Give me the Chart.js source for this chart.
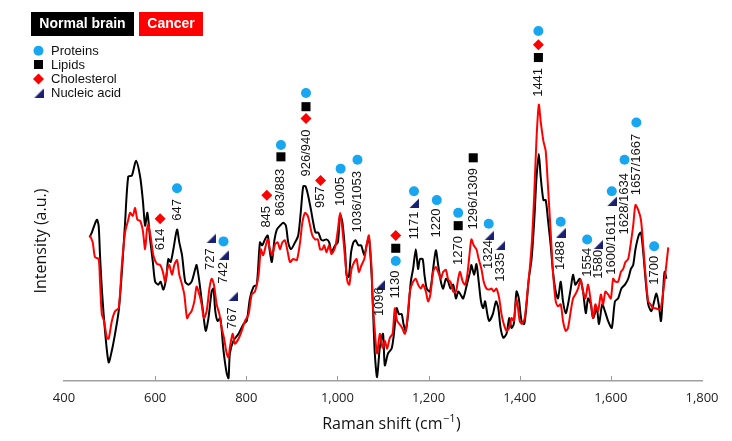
<!DOCTYPE html>
<html lang="en"><head>
<meta charset="UTF-8">
<title>Raman spectra normal brain vs cancer</title>
<script src="https://cdn.jsdelivr.net/npm/chart.js@4.4.0/dist/chart.umd.min.js"></script>
<style>
  body { margin:0; background:#fff; }
  #raman { display:block; }
</style>
</head>
<body>
<canvas id="raman" width="732" height="441"></canvas>
<script>
// spectra: [Raman shift, intensity a.u.]
const normalBrain = [[456,146],[461,151],[472,164],[476,158],[479,128],[483,94],[490,51],[498,19],[505,31],[512,48],[520,71],[527,111],[534,161],[541,208],[549,209],[558,224],[567,208],[573,184],[578,158],[583,171],[589,144],[595,121],[600,101],[607,98],[612,101],[618,93],[624,104],[629,124],[634,121],[640,134],[648,154],[653,141],[659,128],[666,101],[673,98],[680,101],[688,114],[691,118],[697,101],[705,71],[711,51],[717,64],[724,91],[728,94],[732,71],[737,61],[743,64],[750,31],[757,8],[761,3],[764,28],[772,41],[783,48],[794,58],[801,61],[808,84],[816,96],[823,98],[830,141],[835,138],[841,144],[847,148],[851,134],[856,121],[862,144],[867,154],[874,158],[881,161],[887,158],[892,141],[898,134],[907,141],[914,148],[920,174],[925,198],[930,198],[936,188],[942,174],[947,161],[952,151],[958,151],[964,144],[969,143],[976,144],[982,141],[987,131],[995,138],[1001,141],[1006,169],[1011,161],[1017,131],[1020,108],[1025,106],[1030,131],[1035,141],[1040,143],[1046,138],[1052,138],[1059,128],[1064,138],[1069,146],[1075,108],[1078,74],[1082,28],[1087,4],[1093,34],[1100,48],[1104,16],[1111,28],[1119,33],[1124,48],[1130,74],[1135,68],[1141,68],[1145,58],[1150,51],[1155,68],[1161,101],[1166,114],[1172,134],[1177,114],[1181,124],[1187,124],[1191,108],[1196,94],[1203,91],[1210,114],[1216,133],[1221,118],[1227,101],[1232,94],[1238,104],[1243,101],[1248,94],[1254,98],[1260,84],[1265,91],[1270,88],[1276,84],[1284,98],[1291,111],[1294,118],[1300,108],[1305,119],[1310,101],[1315,81],[1320,74],[1324,81],[1329,68],[1333,61],[1341,68],[1348,81],[1353,74],[1358,54],[1364,44],[1371,48],[1377,64],[1382,54],[1387,58],[1393,91],[1398,84],[1404,61],[1410,58],[1415,78],[1420,104],[1426,124],[1432,164],[1437,208],[1442,231],[1446,208],[1452,184],[1457,184],[1462,164],[1468,138],[1473,111],[1479,91],[1484,84],[1490,101],[1495,81],[1501,69],[1506,78],[1512,94],[1517,108],[1522,98],[1527,101],[1532,104],[1539,91],[1545,69],[1550,84],[1556,78],[1561,64],[1569,74],[1574,58],[1581,78],[1587,71],[1594,61],[1602,54],[1609,81],[1616,84],[1623,94],[1631,98],[1638,104],[1644,114],[1649,118],[1654,134],[1661,148],[1666,151],[1671,131],[1676,104],[1682,78],[1689,71],[1695,81],[1700,89],[1705,78],[1710,61],[1715,94],[1718,111],[1722,104]];

const cancer = [[457,148],[463,141],[468,126],[476,124],[479,101],[483,68],[488,61],[494,44],[498,43],[505,61],[512,71],[520,74],[527,118],[534,151],[541,164],[545,171],[551,168],[556,176],[561,164],[567,163],[573,153],[578,134],[582,154],[585,159],[591,144],[596,128],[604,119],[611,118],[617,111],[622,101],[627,114],[631,118],[637,108],[642,118],[648,123],[653,108],[659,98],[664,88],[670,64],[675,68],[680,71],[686,81],[691,96],[697,88],[702,78],[707,64],[713,71],[719,94],[724,104],[729,98],[735,78],[741,68],[746,54],[751,44],[757,28],[761,24],[764,34],[770,48],[775,38],[783,43],[790,51],[797,61],[805,68],[812,88],[819,91],[827,108],[832,134],[837,128],[843,138],[847,144],[852,134],[857,128],[863,139],[869,141],[874,134],[879,141],[885,143],[891,131],[896,121],[903,124],[911,123],[918,141],[923,161],[929,171],[935,168],[940,158],[945,148],[951,144],[957,144],[962,134],[967,134],[971,138],[976,131],[982,138],[987,129],[995,136],[1001,154],[1006,171],[1011,154],[1017,124],[1022,101],[1026,98],[1031,114],[1037,121],[1042,124],[1047,111],[1053,118],[1059,124],[1064,138],[1069,148],[1075,114],[1077,84],[1082,51],[1087,28],[1093,48],[1099,34],[1104,41],[1109,33],[1115,44],[1121,48],[1126,74],[1131,61],[1136,58],[1142,54],[1148,48],[1153,61],[1159,91],[1166,101],[1172,104],[1177,98],[1183,94],[1188,98],[1194,91],[1199,81],[1204,88],[1210,111],[1216,116],[1221,111],[1227,104],[1232,111],[1238,113],[1243,103],[1248,101],[1254,91],[1260,91],[1265,104],[1269,111],[1275,101],[1280,98],[1285,108],[1291,134],[1294,144],[1299,138],[1305,134],[1310,124],[1316,114],[1321,101],[1327,94],[1333,93],[1338,94],[1343,91],[1349,94],[1355,84],[1360,68],[1365,58],[1371,51],[1377,54],[1382,64],[1387,61],[1393,84],[1400,61],[1405,58],[1411,64],[1417,91],[1422,114],[1427,144],[1432,191],[1437,248],[1442,281],[1446,264],[1452,244],[1457,234],[1462,198],[1468,151],[1473,111],[1479,81],[1484,76],[1490,78],[1495,61],[1501,51],[1506,54],[1512,71],[1517,84],[1522,88],[1528,94],[1534,103],[1539,91],[1544,84],[1550,98],[1556,81],[1561,64],[1566,78],[1572,71],[1578,88],[1583,78],[1588,91],[1594,88],[1600,84],[1605,104],[1610,101],[1616,101],[1622,111],[1627,114],[1632,121],[1638,124],[1644,141],[1649,158],[1654,179],[1660,174],[1666,164],[1671,138],[1676,108],[1682,81],[1687,78],[1693,74],[1698,74],[1704,73],[1709,73],[1715,91],[1720,111],[1726,136]];

// band annotations: label, where it sits on the x axis, and the intensity at the foot of the text
const bandNames = ['614','647','727','742','767','845','863/883','926/940','957','1005','1036/1053','1096','1130','1171','1220','1270','1296/1309','1324','1335','1441','1488','1554','1580','1600/1611','1628/1634','1657/1667','1700'];
const bandX     = [611,648,722,750,770,845,876,931,963,1007,1044,1093,1128,1168,1218,1265,1298,1332,1357,1441,1490,1548,1572,1602,1630,1656,1695];
const bandFoot  = [133,163,113,99,53,156,168,208,176,178,151,66,84,144,146,118,154,114,101,289,113,106,104,108,149,189,98];

// assignment markers
const proteinX = [648,750,876,931,1007,1044,1128,1168,1218,1265,1332,1441,1490,1548,1602,1630,1656,1695];
const proteinY = [196,142,240,293,216,225,122,193,184,171,160,356,162,144,193,225,263,137];
const lipidX = [876,931,1128,1265,1298,1441];
const lipidY = [228,279,135,158,227,329];
const cholX = [611,845,931,963,1128,1441];
const cholY = [165,189,267,204,148,342];
const nucleicX = [722,750,770,1093,1168,1332,1357,1490,1572,1602];
const nucleicY = [145,128,86,98,181,148,138,151,139,183];

const xTicks = [400,600,800,1000,1200,1400,1600,1800];

const BLUE = '#19a6f0', NAVY = '#1b1f73', RED = '#ff0000';

function pts(xs, ys) { return xs.map((x, i) => ({x: x, y: ys[i]})); }
function pairs(a) { return a.map(p => ({x: p[0], y: p[1]})); }

function triangleImg() {
	const c = document.createElement('canvas');
	c.width = 10; c.height = 10;
	const g = c.getContext('2d');
	g.fillStyle = NAVY;
	g.beginPath();
	g.moveTo(10, 0.5); g.lineTo(10, 10); g.lineTo(0.5, 10);
	g.closePath(); g.fill();
	return c;
}
const tri = triangleImg();

function marker(g, kind, x, y) {
	g.beginPath();
	if (kind == 'circle') { g.fillStyle = BLUE; g.arc(x, y, 5, 0, Math.PI*2); g.fill(); }
	else if (kind == 'square') { g.fillStyle = '#000'; g.fillRect(x-4.5, y-4.5, 9, 9); }
	else if (kind == 'diamond') { g.fillStyle = RED; g.moveTo(x, y-5.5); g.lineTo(x+5.5, y); g.lineTo(x, y+5.5); g.lineTo(x-5.5, y); g.closePath(); g.fill(); }
	else { g.drawImage(tri, x-5, y-5); }
}

const decorations = {
	id: 'decorations',
	afterDraw(chart) {
		const g = chart.ctx, xs = chart.scales.x, ys = chart.scales.y;
		const bottom = chart.chartArea.bottom;
		g.save();
		// small ticks pointing up from the axis
		g.strokeStyle = '#9a9a9a'; g.lineWidth = 1;
		xTicks.slice(1, -1).forEach(v => {
			const px = Math.round(xs.getPixelForValue(v)) + 0.5;
			g.beginPath(); g.moveTo(px, bottom); g.lineTo(px, bottom - 5); g.stroke();
		});
		// band labels
		g.font = '13px "Liberation Sans", Arial, sans-serif';
		g.fillStyle = '#111'; g.textAlign = 'left'; g.textBaseline = 'middle';
		bandNames.forEach((t, i) => {
			g.save();
			g.translate(xs.getPixelForValue(bandX[i]), ys.getPixelForValue(bandFoot[i]));
			g.rotate(-Math.PI/2);
			g.fillText(t, 0, 0);
			g.restore();
		});
		// group boxes
		g.font = 'bold 14px "Liberation Sans", Arial, sans-serif';
		g.textAlign = 'center';
		g.fillStyle = '#000'; g.fillRect(31, 12, 103, 24);
		g.fillStyle = RED; g.fillRect(139, 12, 64, 24);
		g.fillStyle = '#fff';
		g.fillText('Normal brain', 82.5, 24.5);
		g.fillText('Cancer', 171, 24.5);
		// marker key
		const key = [['circle','Proteins',50.7],['square','Lipids',64.5],['diamond','Cholesterol',79],['tri','Nucleic acid',93.3]];
		g.font = '13px "Liberation Sans", Arial, sans-serif';
		g.textAlign = 'left';
		key.forEach(k => {
			marker(g, k[0], 38.5, k[2]);
			g.fillStyle = '#111';
			g.fillText(k[1], 51, k[2] + 0.5);
		});
		// axis titles
		g.fillStyle = '#111';
		g.font = '16px "Open Sans", sans-serif';
		g.save();
		g.translate(41, 241); g.rotate(-Math.PI/2);
		g.textAlign = 'center'; g.fillText('Intensity (a.u.)', 0, 0);
		g.restore();
		const t1 = 'Raman shift (cm', t2 = '\u22121', t3 = ')';
		const w1 = g.measureText(t1).width, w3 = g.measureText(t3).width;
		g.font = '11px "Open Sans", sans-serif';
		const w2 = g.measureText(t2).width;
		let x0 = 391 - (w1 + w2 + w3)/2;
		g.textAlign = 'left';
		g.font = '16px "Open Sans", sans-serif';
		g.fillText(t1, x0, 424);
		g.font = '11px "Open Sans", sans-serif';
		g.fillText(t2, x0 + w1 + 0.5, 419);
		g.font = '16px "Open Sans", sans-serif';
		g.fillText(t3, x0 + w1 + w2 + 1, 424);
		g.restore();
	}
};

new Chart(document.getElementById('raman'), {
	type: 'line',
	data: {
		datasets: [
			{ type: 'scatter', data: pts(proteinX, proteinY), pointStyle: 'circle', pointRadius: 5, backgroundColor: BLUE, borderWidth: 0, order: 0, clip: false },
			{ type: 'scatter', data: pts(lipidX, lipidY), pointStyle: 'rect', pointRadius: 6.4, backgroundColor: '#000', borderWidth: 0, order: 0, clip: false },
			{ type: 'scatter', data: pts(cholX, cholY), pointStyle: 'rectRot', pointRadius: 5.5, backgroundColor: RED, borderWidth: 0, order: 0, clip: false },
			{ type: 'scatter', data: pts(nucleicX, nucleicY), pointStyle: tri, pointRadius: 5, borderWidth: 0, order: 0, clip: false },
			{ label: 'Cancer', data: pairs(cancer), borderColor: RED, borderWidth: 2, pointRadius: 0, tension: 0.25, order: 1 },
			{ label: 'Normal brain', data: pairs(normalBrain), borderColor: '#000', borderWidth: 2, pointRadius: 0, tension: 0.25, order: 2 }
		]
	},
	options: {
		responsive: false,
		animation: false,
		devicePixelRatio: 1,
		layout: { padding: { left: 64, right: 30, top: 0, bottom: 0 } },
		plugins: { legend: { display: false }, tooltip: { enabled: false } },
		scales: {
			x: {
				type: 'linear', min: 400, max: 1800,
				grid: { display: false },
				border: { display: true, color: '#a0a0a0', width: 1.5 },
				ticks: {
					stepSize: 200, padding: 1, color: '#222',
					font: { family: '"Open Sans", sans-serif', size: 13 },
					callback: v => v.toLocaleString('en-US')
				},
				afterFit: s => { s.height = 60; }
			},
			y: { display: false, min: 0, max: 381 }
		}
	},
	plugins: [decorations]
});
</script>
</body></html>
